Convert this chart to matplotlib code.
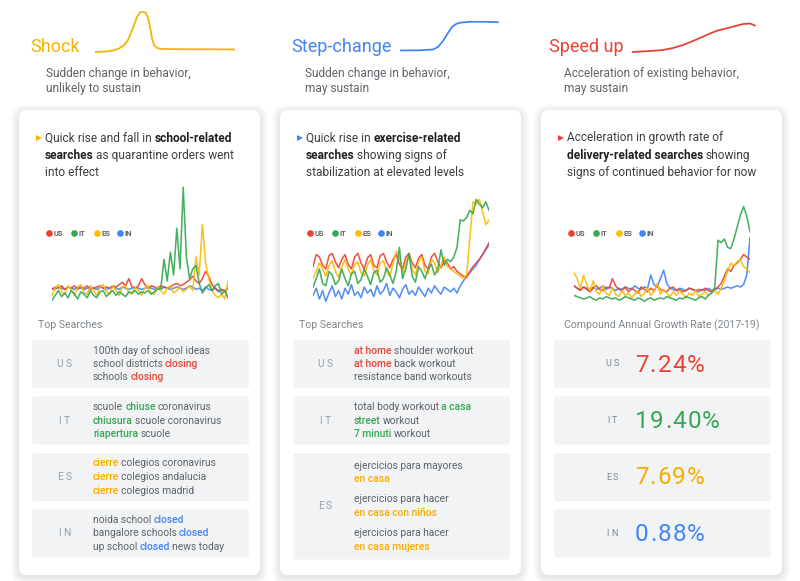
import matplotlib
matplotlib.use("Agg")
import matplotlib.pyplot as plt
from matplotlib.patches import FancyBboxPatch

plt.rcParams['font.family'] = ['Roboto', 'DejaVu Sans']

# ---------------- data ----------------
countries = ["US", "IT", "ES", "IN"]
series_colors = ["#EA4335", "#34A853", "#FBBC04", "#4285F4"]
hi_colors = ["#EA4335", "#34A853", "#F9AB00", "#4285F4"]

pattern_names = ["Shock", "Step-change", "Speed up"]
pattern_colors = ["#F4B400", "#4285F4", "#EA4335"]
pattern_subtitles = [["Sudden change in behavior,", "unlikely to sustain"],
                     ["Sudden change in behavior,", "may sustain"],
                     ["Acceleration of existing behavior,", "may sustain"]]

# icon sketches (offset along x, height above baseline)
shock_icon_t = [0, 10, 18, 24, 29, 33, 36, 39, 42, 45, 48, 51, 53, 55, 57, 59, 62, 67, 85, 115, 140]
shock_icon_v = [1, 1.4, 2.5, 4.5, 8, 13, 20, 28, 36, 40.5, 41.5, 40, 35, 26, 15, 8, 5, 4, 3.8, 3.7, 3.5]
step_icon_t = [0, 20, 33, 38, 43, 48, 52, 56, 60, 70, 85, 98]
step_icon_v = [2.5, 2.7, 3.5, 6, 12, 20, 26, 29, 30.3, 31.2, 31.2, 30.8]
speed_icon_t = [0, 18, 31, 41, 51, 61, 71, 78, 85, 98, 111, 118, 123]
speed_icon_v = [3, 4, 5, 7, 10, 14, 18.3, 21.5, 24.3, 27.5, 31, 31.5, 29.5]

descriptions = [
    [[("Quick rise and fall in ", False), ("school-related", True)],
     [("searches", True), (" as quarantine orders went", False)],
     [("into effect", False)]],
    [[("Quick rise in ", False), ("exercise-related", True)],
     [("searches", True), (" showing signs of", False)],
     [("stabilization at elevated levels", False)]],
    [[("Acceleration in growth rate of", False)],
     [("delivery-related searches", True), (" showing", False)],
     [("signs of continued behavior for now", False)]],
]

# weekly search interest (0-100)
shock_us = [13,15,14,16,13,15,14,16,13,15,14,16,13,14,15,16,14,15,14,16,15,17,19,16,22,15,14,16,22,17,
            14,16,15,14,16,15,14,15,17,18,16,17,19,21,24,20,18,22,28,24,17,14,12,13,11,14]
shock_it = [4,8,12,7,10,6,12,9,5,11,9,6,12,8,6,11,12,7,10,12,8,11,9,7,11,10,12,9,11,10,
            12,9,11,13,14,38,20,44,25,64,30,98,40,22,30,33,18,10,14,17,12,16,18,9,12,6]
shock_es = [8,14,17,11,9,16,13,8,15,17,10,9,16,12,8,15,17,11,9,16,12,8,15,16,10,9,15,12,8,14,
            16,10,9,15,12,9,14,16,10,12,15,11,13,16,12,40,25,67,35,22,12,8,6,9,5,20]
shock_in = [14,13,15,14,13,15,14,13,15,14,13,14,15,14,13,15,14,13,14,15,14,13,15,14,13,14,15,14,13,14,
            15,14,13,14,13,15,14,13,14,15,14,13,14,16,15,13,14,12,15,13,12,14,11,13,12,14]

step_us = [32,42,40,33,30,41,43,36,31,38,42,34,30,40,43,35,30,39,42,33,31,41,43,36,31,38,42,34,30,40,
           43,35,31,39,42,33,30,40,43,36,31,37,35,30,32,28,26,24,23,28,32,35,38,42,47,52]
step_it = [15,22,30,18,16,28,25,17,20,30,22,16,26,28,18,21,30,24,17,27,29,19,22,31,25,18,28,48,22,30,
           43,24,19,32,28,22,30,34,25,30,46,33,38,36,40,48,71,70,73,79,76,88,84,81,86,79]
step_es = [22,28,35,30,24,33,37,28,23,32,38,30,25,34,36,27,24,33,38,29,25,35,37,28,24,34,45,40,26,35,
           42,30,25,36,40,28,26,38,35,27,33,40,32,30,28,26,24,22,25,55,86,84,88,78,67,71]
step_in = [8,14,5,12,3,10,16,7,12,5,14,9,17,8,11,6,15,10,13,7,16,9,12,18,8,14,11,6,13,17,
           9,12,8,15,11,7,14,10,16,12,9,15,13,11,14,10,16,20,24,27,30,33,38,42,46,50]

speed_us = [16,14,12,15,13,11,14,16,13,12,15,14,22,16,13,12,15,11,14,12,10,15,13,11,14,12,16,13,12,11,
            14,15,12,13,11,12,14,13,12,13,12,14,12,11,13,15,18,24,30,28,33,35,38,42,40,38]
speed_it = [8,7,6,5,6,7,5,4,6,5,7,6,5,6,4,5,7,6,5,4,6,5,3,5,6,4,5,6,5,7,
            6,5,4,6,5,7,6,5,4,6,7,5,8,10,15,54,52,55,48,47,55,65,75,82,74,61]
speed_es = [27,22,14,25,17,12,20,11,9,16,10,8,14,9,7,12,8,10,6,9,12,7,10,14,8,11,18,9,13,10,
            7,11,8,12,9,6,10,8,12,7,9,11,8,10,12,9,14,20,28,35,33,36,38,32,30,27]
speed_in = [16,14,13,15,14,12,15,13,14,16,13,15,14,12,14,13,15,14,13,16,14,13,15,14,25,17,15,22,29,18,
            14,13,12,14,13,12,14,13,12,11,13,12,14,12,13,14,13,14,15,14,15,16,15,17,25,56]

chart_series = [[shock_us, shock_it, shock_es, shock_in],
                [step_us, step_it, step_es, step_in],
                [speed_us, speed_it, speed_es, speed_in]]

# top searches: (country index, groups of lines of (text, highlighted))
shock_searches = [
    (0, [[[("100th day of school ideas", 0)], [("school districts ", 0), ("closing", 1)], [("schools ", 0), ("closing", 1)]]]),
    (1, [[[("scuole ", 0), ("chiuse", 1), (" coronavirus", 0)], [("chiusura", 1), (" scuole coronavirus", 0)], [("riapertura", 1), (" scuole", 0)]]]),
    (2, [[[("cierre", 1), (" colegios coronavirus", 0)], [("cierre", 1), (" colegios andalucia", 0)], [("cierre", 1), (" colegios madrid", 0)]]]),
    (3, [[[("noida school ", 0), ("closed", 1)], [("bangalore schools ", 0), ("closed", 1)], [("up school ", 0), ("closed", 1), (" news today", 0)]]]),
]
step_searches = [
    (0, [[[("at home", 1), (" shoulder workout", 0)], [("at home", 1), (" back workout", 0)], [("resistance band workouts", 0)]]]),
    (1, [[[("total body workout ", 0), ("a casa", 1)], [("street", 1), (" workout", 0)], [("7 minuti", 1), (" workout", 0)]]]),
    (2, [[[("ejercicios para mayores", 0)], [("en casa", 1)]],
         [[("ejercicios para hacer", 0)], [("en casa con niños", 1)]],
         [[("ejercicios para hacer", 0)], [("en casa mujeres", 1)]]]),
]
cagr_title = "Compound Annual Growth Rate (2017-19)"
cagr_values = [7.24, 19.40, 7.69, 0.88]

# ---------------- drawing ----------------
W, H = 800, 581
fig = plt.figure(figsize=(8, 5.81), dpi=100, facecolor='white')
bg = fig.add_axes([0, 0, 1, 1])
bg.set_xlim(0, W)
bg.set_ylim(H, 0)
bg.axis('off')
renderer = fig.canvas.get_renderer()


def px_axes(x0, y0, x1, y1):
    ax = fig.add_axes([x0 / W, 1 - y1 / H, (x1 - x0) / W, (y1 - y0) / H])
    ax.axis('off')
    return ax


def text_width(s, **kw):
    t = bg.text(0, 0, '|' + s + '|', **kw)
    w1 = t.get_window_extent(renderer).width
    t.set_text('||')
    w2 = t.get_window_extent(renderer).width
    t.remove()
    return w1 - w2


def draw_runs(x, y, runs, styles, fudge=0.35):
    # move leading spaces to the end of the previous run
    norm = []
    for text, key in runs:
        if norm and text.startswith(' '):
            pt, pk = norm[-1]
            norm[-1] = (pt + ' ', pk)
            text = text.lstrip(' ')
        norm.append((text, key))
    for text, key in norm:
        kw = dict(styles[key])
        bg.text(x, y, text.rstrip(' '), va='center', ha='left', **kw)
        x += text_width(text, **kw) - fudge


def draw_spaced(x, y, s, spacing, **kw):
    for ch in s:
        bg.text(x, y, ch, va='center', ha='left', **kw)
        x += text_width(ch, **kw) + spacing


def rbox(x, y, w, h, r, fc, **kw):
    p = FancyBboxPatch((x, y), w, h, boxstyle=f"round,pad=0,rounding_size={r}",
                       facecolor=fc, edgecolor='none', **kw)
    bg.add_patch(p)


card_x = [19, 280, 541]
card_w = 241
card_top, card_bot = 110, 575
title_x = [30, 291, 549]
sub_x = [46, 305, 564]
icons = [(shock_icon_t, shock_icon_v, 95, 11, 140, 42),
         (step_icon_t, step_icon_v, 400, 20, 100, 33),
         (speed_icon_t, speed_icon_v, 632, 20, 125, 35)]

for c in range(3):
    cx = card_x[c]
    # shadow + card
    for k in range(8, 0, -1):
        rbox(cx - k, card_top - k + 2, card_w + 2 * k, card_bot - card_top + 2 * k, 8 + k,
             'black', alpha=0.011)
    rbox(cx, card_top, card_w, card_bot - card_top, 8, 'white')

    # header
    bg.text(title_x[c], 47, pattern_names[c], fontsize=13, fontweight='normal',
            color=pattern_colors[c], va='center', ha='left')
    for j, line in enumerate(pattern_subtitles[c]):
        bg.text(sub_x[c], 73 + 15.5 * j, line, fontsize=8.6, color='#5f6368',
                va='center', ha='left')
    t_, v_, ix, iy, iw, ih = icons[c]
    iax = px_axes(ix, iy, ix + iw, iy + ih)
    iax.set_xlim(0, iw)
    iax.set_ylim(0, ih)
    iax.plot(t_, v_, color=pattern_colors[c], lw=1.3, solid_capstyle='round')

    # description
    bg.plot(cx + 19.5, 138, marker='>', markersize=4.5, color=pattern_colors[c],
            markeredgewidth=0)
    dstyles = {False: dict(fontsize=8.6, color='#3c4043'),
               True: dict(fontsize=8.6, color='#202124', fontweight='bold')}
    for j, runs in enumerate(descriptions[c]):
        draw_runs(cx + 26, 138 + 17.2 * j, runs, dstyles)

    # chart
    ax = px_axes(cx + 33, 185, cx + 209, 305)
    data = chart_series[c]
    n = len(data[0])
    ax.set_xlim(0, n - 1)
    ax.set_ylim(0, 100)
    for k in [3, 0, 2, 1]:
        ax.plot(range(n), data[k], color=series_colors[k], lw=1.15, alpha=0.9)
    lx = [30, 55, 78, 101]
    for k in range(4):
        bg.plot(cx + lx[k], 233, 'o', markersize=4.8, color=series_colors[k], markeredgewidth=0)
        bg.text(cx + lx[k] + 4.5, 233.3, countries[k], fontsize=5.5, color='#5f6368',
                fontweight='bold', va='center', ha='left')

    # rows
    if c < 2:
        bg.text(cx + 19, 325, "Top Searches", fontsize=7.6, color='#80868b',
                va='center', ha='left')
        rows = shock_searches if c == 0 else step_searches
        top = 340
        for ci, groups in rows:
            nlines = sum(len(g) for g in groups)
            pad = 10.5 if len(groups) == 1 else 13
            h = 2 * pad + (nlines - 1) * 13.5 + (len(groups) - 1) * 6.5
            rbox(cx + 13, top, 217, h, 3, '#f1f3f4')
            lw_ = text_width(countries[ci], fontsize=7.4) + 2.5
            draw_spaced(cx + 45 - lw_ / 2, top + h / 2, countries[ci], 2.5,
                        fontsize=7.4, color='#9aa0a6')
            styles = {0: dict(fontsize=7.4, color='#5f6368'),
                      1: dict(fontsize=7.4, color=hi_colors[ci], fontweight='medium')}
            y = top + pad
            for gi, g in enumerate(groups):
                for line in g:
                    draw_runs(cx + 74, y, line, styles)
                    y += 13.5
                y += 6.5
            top += h + 8.5
    else:
        bg.text(cx + card_w / 2, 325, cagr_title, fontsize=7.6, color='#80868b',
                va='center', ha='center')
        top = 340
        for ci, val in enumerate(cagr_values):
            h = 48
            rbox(cx + 13, top, 217, h, 3, '#f1f3f4')
            lw_ = text_width(countries[ci], fontsize=6.5) + 2
            draw_spaced(cx + 71 - lw_ / 2, top + h / 2, countries[ci], 2,
                        fontsize=6.5, color='#80868b')
            draw_spaced(cx + 94, top + h / 2 + 1, f"{val:.2f}%", 1.2, fontsize=17.5,
                        fontweight='normal',
                        color=series_colors[ci] if ci != 2 else '#F9AB00')
            top += h + 8.5

fig.savefig("out.png", dpi=100, facecolor='white')
